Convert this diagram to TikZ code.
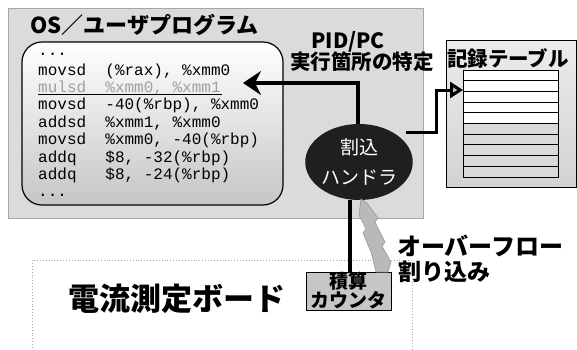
\documentclass[tikz,border=0pt]{standalone}
\usepackage{fontspec}
\setmainfont{Noto Sans CJK JP}
\newfontfamily\codefont{Liberation Mono}
\usetikzlibrary{arrows.meta,shapes.geometric,calc}
\begin{document}
\begin{tikzpicture}[x=1pt,y=-1pt,
  box/.style={draw, inner sep=0pt, anchor=center},
  jp/.style={font=\fontsize{#1}{#1}\selectfont\bfseries, inner sep=0pt},
  codeline/.style={font=\codefont\fontsize{16}{17}\selectfont, inner sep=0pt, anchor=base west},
  thickarrow/.style={line width=4pt},
]
\useasboundingbox (0,0) rectangle (577,349);
\fill[white] (0,0) rectangle (577,349);

% OS / user program area
\node[box, draw=gray!70, fill=gray!28, minimum width=415pt, minimum height=210pt] (os) at (215.5,113) {};
\node[jp=22, anchor=west] (ostitle) at (30,25) {OS／ユーザプログラム};

% code box
\node[box, line width=1.2pt, rounded corners=20pt, top color=white, bottom color=gray!45,
      minimum width=261pt, minimum height=163pt] (code) at (152.5,123.5) {};
\node[codeline] (l0) at (38,55) {...};
\node[codeline] (l1) at (38,75) {movsd\ \ (\%rax), \%xmm0};
\node[codeline, text=gray!75] (l2) at (38,92.4) {mulsd\ \ \%xmm0, \%xmm1};
\draw[line width=0.8pt] (l2.base west) ++(0,1.5) -- ++(184,0);
\node[codeline] (l3) at (38,109.8) {movsd\ \ -40(\%rbp), \%xmm0};
\node[codeline] (l4) at (38,127.2) {addsd\ \ \%xmm1, \%xmm0};
\node[codeline] (l5) at (38,144.6) {movsd\ \ \%xmm0, -40(\%rbp)};
\node[codeline] (l6) at (38,162) {addq\ \ \ \$8, -32(\%rbp)};
\node[codeline] (l7) at (38,179.4) {addq\ \ \ \$8, -24(\%rbp)};
\node[codeline] (l8) at (38,196.5) {...};

% PID/PC label
\node[jp=21] (pid) at (348,42) {PID/PC};
\node[jp=20.5] (exec) at (362,62) {実行箇所の特定};

% record table
\node[box, draw=black, top color=gray!15, bottom color=gray!35, minimum width=130pt, minimum height=147pt] (rec) at (511,113.5) {};
\node[jp=20.5] (rectitle) at (508,58) {記録テーブル};
\foreach \i in {0,...,9} {
  \pgfmathsetmacro{\yy}{70+\i*10.7}
  \ifnum\i<5
    \filldraw[fill=white, draw=black, line width=0.9pt] (463,\yy) rectangle (558,\yy+10.7);
  \else
    \filldraw[fill=gray!30, draw=black, line width=0.9pt] (463,\yy) rectangle (558,\yy+10.7);
  \fi
}
\node[inner sep=0pt, minimum width=95pt, minimum height=107pt] (table) at (510.5,123.5) {};

% interrupt handler
\node[ellipse, fill=black!88, minimum width=102pt, minimum height=76pt, inner sep=0pt,
      text=white, font=\fontsize{19}{30}\selectfont, align=center] (handler) at (359,162) {割込\\ハンドラ};

% arrow to code (PID/PC)
\coordinate (pctarget) at (243,83);
\draw[thickarrow, -{Stealth[length=18pt, width=24pt, inset=6pt]}] (handler.north -| 358,0) |- (pctarget);

% arrow to record table
\coordinate (tstart) at (406,132);
\coordinate (tabin) at (463,90);
\draw[line width=3pt, -{Triangle[length=13pt, width=16pt, fill=gray!45]}] (tstart) -- (436,132) |- (tabin);

% current measurement board
\node[box, draw=gray!70, dotted, line width=0.9pt, fill=white, minimum width=380pt, minimum height=110pt] (board) at (222,315) {};
\node[jp=31] (boardtitle) at (177,299) {電流測定ボード};

% counter
\node[box, draw=black, line width=0.8pt, fill=gray!45, minimum width=85pt, minimum height=38pt,
      font=\fontsize{19}{19}\selectfont\bfseries, align=center] (counter) at (348.5,291) {積算\\カウンタ};

% black connector handler -> counter
\coordinate (vline) at (350,0);
\draw[line width=4pt] (handler.south -| vline) -- (counter.north -| vline);

% overflow interrupt bolt
\filldraw[fill=gray!55, draw=gray!80, line width=0.6pt]
  (361,199) -- (359,215) -- (366,229) -- (363,233) -- (371,252) -- (376,272)
  -- (388,272) -- (391,262) -- (382,246) -- (385,242) -- (375,222) -- (378,218) -- (367,203) -- cycle;

\node[jp=24, anchor=west] (ovf) at (397,246) {オーバーフロー};
\node[jp=23, anchor=west] (intr) at (398,272) {割り込み};
\end{tikzpicture}
\end{document}
